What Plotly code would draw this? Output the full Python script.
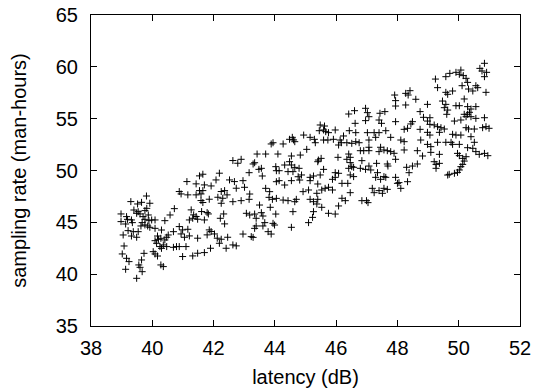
import plotly.graph_objects as go

# latency (dB) values
latency = [
    39.81, 39.30, 39.52, 39.65, 39.92, 39.40, 39.54, 39.76, 39.82, 38.98, 38.98, 39.16, 39.19, 39.13, 39.32, 39.35,
    39.49, 39.60, 39.70, 39.76, 39.87, 39.67, 39.63, 39.89, 39.98, 40.09, 40.41, 40.58, 40.72, 39.21, 39.38, 39.54,
    39.05, 39.32, 39.49, 39.76, 39.85, 39.92, 40.09, 40.30, 40.17, 40.28, 40.69, 40.52, 40.47, 40.41, 40.20, 40.09,
    40.14, 40.36, 40.47, 40.25, 40.30, 40.03, 40.79, 40.69, 39.08, 39.02, 39.16, 39.24, 39.73, 40.09, 40.17, 39.65,
    39.56, 39.60, 39.67, 39.13, 40.28, 40.36, 39.49,
    42.63, 42.79, 42.19, 41.54, 41.65, 42.52, 42.68, 42.74, 41.13, 41.43, 41.70, 41.92, 42.08, 40.88, 40.94, 41.16,
    41.43, 41.54, 41.65, 41.59, 42.25, 42.36, 42.44, 42.30, 42.14, 41.86, 41.59, 41.65, 42.63, 42.25, 41.27, 41.35,
    41.32, 41.43, 41.21, 41.48, 41.61, 41.79, 41.83, 41.70, 42.22, 42.33, 42.36, 40.88, 40.99, 41.16, 40.94, 41.05,
    41.21, 41.86, 41.92, 41.79, 42.03, 42.12, 42.25, 42.46, 41.48, 40.88, 41.10, 42.19, 42.41, 42.63, 42.74, 41.90,
    41.70, 41.48, 41.32, 40.99,
    43.88, 43.94, 44.27, 44.48, 44.57, 44.61, 44.65, 44.94, 42.90, 43.42, 43.70, 44.10, 44.54, 44.83, 43.29, 43.34,
    43.16, 43.48, 43.56, 43.59, 44.03, 44.05, 44.14, 44.32, 44.48, 44.54, 44.65, 44.59, 44.43, 44.79, 44.76, 44.87,
    42.96, 43.01, 44.05, 44.14, 44.54, 44.81, 44.92, 44.32, 43.70, 43.83, 42.90, 43.18, 43.16, 43.81, 43.92, 44.05,
    44.27, 44.43, 44.65, 44.70, 43.50, 43.85, 43.07, 43.18, 43.34, 43.39, 43.56, 43.61, 44.03, 44.59, 43.67, 43.61,
    43.34, 43.39, 43.94, 43.99, 43.78, 43.88, 44.54, 42.96, 43.23, 43.29,
    46.41, 46.60, 45.48, 45.62, 45.45, 45.59, 45.66, 45.75, 45.97, 46.62, 46.64, 46.43, 45.15, 45.29, 45.32, 45.59,
    45.73, 45.91, 46.13, 46.24, 46.17, 46.08, 46.35, 46.51, 46.64, 46.75, 45.04, 46.79, 46.90, 45.42, 45.51, 45.40,
    46.06, 46.35, 46.46, 46.41, 46.46, 46.84, 45.59, 45.97, 46.08, 46.41, 46.51, 46.57, 46.46, 46.57, 46.79, 45.15,
    45.26, 45.48, 45.88, 45.97, 46.19, 46.38, 45.15, 45.40, 45.53, 45.64, 45.75, 45.88, 45.37, 45.10, 45.15, 45.26,
    45.40, 45.37, 46.19, 46.30, 46.46, 46.84, 45.53, 46.08, 45.75, 45.97, 45.26, 45.23, 45.10,
    47.91, 48.27, 48.41, 48.35, 47.94, 47.94, 48.27, 48.60, 46.96, 47.02, 47.07, 46.96, 47.43, 47.59, 47.40, 47.48,
    47.94, 48.74, 48.85, 48.49, 48.44, 48.22, 48.33, 48.74, 47.02, 47.24, 47.40, 47.62, 47.29, 47.07, 47.78, 48.11,
    48.22, 48.76, 47.07, 47.07, 47.45, 47.40, 47.56, 47.67, 47.78, 47.89, 48.22, 48.65, 48.82, 47.32, 47.67, 47.69,
    47.94, 47.07, 46.96, 47.13, 47.35, 47.29, 47.56, 47.62, 47.45, 48.30, 48.49, 48.65, 48.38, 47.94, 48.00, 48.05,
    48.33, 48.11, 47.18, 47.24, 47.40, 47.51, 47.56, 47.67, 46.99, 47.04,
    50.84, 50.69, 50.76, 50.91, 50.84, 49.24, 49.58, 49.71, 49.91, 50.07, 50.02, 50.15, 50.24, 50.29, 50.56, 50.62,
    50.11, 49.31, 49.58, 49.80, 49.64, 50.32, 50.46, 50.89, 50.18, 49.47, 49.58, 49.53, 49.64, 49.61, 49.91, 50.02,
    50.29, 50.40, 50.56, 50.35, 50.18, 48.98, 49.86, 50.07, 50.24, 50.29, 50.40, 50.56, 50.84, 49.06, 48.98, 49.06,
    49.20, 49.31, 49.42, 49.53, 49.37, 48.98, 49.06, 49.80, 49.91, 50.07, 50.24, 50.32, 50.51, 50.78, 50.89, 50.99,
    50.40, 48.98, 49.09, 49.31, 49.58, 49.75, 49.80, 50.02, 50.51, 50.29, 50.46, 50.56, 50.67, 50.84, 50.95, 49.09,
    49.37, 49.96, 50.02, 50.13, 50.24, 50.18, 49.20, 49.26, 49.37, 49.26, 50.13, 50.07, 50.02, 49.96, 49.86, 49.69,
    49.64,
]

# sampling rate (man-hours) values, same order as latency
sampling_rate = [
    47.54, 47.00, 46.77, 46.93, 46.84, 46.19, 46.03, 46.13, 46.35, 45.81, 45.07, 45.55, 45.29, 44.84, 45.23, 44.97,
    45.87, 45.81, 45.55, 45.29, 45.71, 44.97, 44.65, 45.16, 45.23, 45.23, 45.16, 45.71, 46.32, 44.20, 44.10, 44.10,
    43.78, 43.68, 43.56, 44.75, 44.65, 44.52, 44.42, 44.26, 43.68, 43.46, 44.10, 43.78, 43.56, 43.30, 43.36, 43.23,
    42.98, 42.82, 42.66, 42.66, 42.49, 42.17, 42.66, 42.59, 42.72, 41.95, 41.53, 41.21, 42.01, 41.95, 41.75, 41.37,
    40.89, 40.66, 40.24, 40.47, 40.89, 40.73, 39.60,
    50.96, 50.70, 49.74, 49.48, 49.64, 49.09, 48.93, 48.29, 48.93, 48.71, 48.61, 48.51, 49.09, 47.97, 47.74, 47.65,
    47.65, 48.06, 48.06, 47.74, 47.97, 48.06, 47.65, 47.32, 47.42, 47.23, 47.10, 46.91, 46.99, 46.84, 46.20, 45.72,
    45.39, 45.56, 45.23, 45.30, 46.04, 45.94, 45.81, 45.23, 45.39, 45.81, 44.85, 44.59, 44.27, 44.33, 43.88, 43.56,
    43.69, 44.27, 44.11, 43.79, 43.88, 43.47, 43.37, 43.56, 43.47, 42.66, 42.66, 42.98, 42.50, 42.82, 42.73, 42.50,
    42.08, 42.02, 41.76, 41.70,
    52.56, 52.68, 52.56, 53.01, 53.20, 52.95, 52.78, 53.42, 51.08, 51.59, 51.59, 51.59, 51.40, 51.49, 50.63, 50.75,
    49.79, 50.11, 50.21, 49.47, 50.37, 49.98, 49.98, 50.53, 50.85, 50.53, 50.30, 49.89, 49.89, 50.21, 49.40, 49.57,
    49.02, 48.38, 48.92, 49.02, 49.02, 49.08, 47.96, 48.60, 48.28, 47.96, 47.09, 47.73, 47.22, 47.41, 47.22, 47.31,
    47.15, 47.09, 46.99, 47.22, 46.67, 46.45, 45.87, 45.71, 45.80, 45.39, 45.93, 45.61, 45.80, 46.03, 44.97, 44.65,
    44.42, 44.65, 44.90, 44.74, 44.10, 43.87, 44.52, 43.87, 43.62, 43.55,
    55.45, 55.77, 54.39, 54.29, 53.84, 53.91, 53.75, 53.65, 53.91, 54.55, 53.65, 53.84, 53.20, 53.01, 52.68, 52.94,
    52.94, 53.01, 52.94, 53.33, 52.68, 52.46, 52.68, 52.62, 52.78, 52.68, 52.04, 51.91, 51.91, 51.01, 51.17, 50.85,
    51.27, 51.08, 51.27, 51.59, 50.76, 50.95, 50.11, 49.79, 49.73, 50.21, 50.37, 50.31, 49.57, 49.41, 50.21, 49.34,
    49.47, 49.57, 49.15, 49.34, 48.76, 48.76, 49.02, 48.70, 48.12, 48.28, 48.38, 48.12, 47.80, 48.12, 47.22, 46.99,
    47.22, 46.77, 47.32, 47.09, 47.86, 47.09, 46.45, 46.58, 45.87, 45.80, 46.03, 45.48, 44.97,
    57.28, 57.44, 57.70, 57.28, 56.74, 56.22, 56.32, 56.87, 56.00, 55.58, 55.19, 54.81, 55.52, 55.68, 54.87, 54.55,
    54.71, 55.68, 55.13, 54.71, 54.49, 53.97, 54.07, 53.97, 53.65, 53.65, 53.65, 53.84, 53.20, 52.94, 53.20, 52.94,
    52.78, 52.94, 52.24, 51.91, 52.24, 51.82, 51.98, 51.91, 51.82, 51.66, 51.98, 51.91, 51.40, 50.69, 50.63, 50.43,
    51.08, 50.43, 50.11, 50.05, 49.79, 49.34, 49.41, 49.34, 49.15, 50.31, 50.43, 50.63, 49.79, 49.34, 48.76, 48.83,
    48.92, 48.28, 48.28, 47.86, 48.06, 47.80, 48.28, 48.18, 47.09, 46.90,
    60.34, 59.85, 59.60, 59.47, 59.05, 58.82, 59.05, 59.37, 59.47, 59.69, 59.28, 59.15, 58.89, 58.50, 58.18, 57.99,
    58.18, 57.99, 57.54, 57.67, 57.35, 57.86, 57.67, 57.54, 56.90, 56.70, 56.38, 56.06, 55.83, 55.42, 56.25, 56.25,
    56.16, 55.93, 56.16, 55.61, 55.42, 56.38, 54.77, 54.87, 55.19, 55.42, 55.19, 55.03, 55.09, 55.09, 54.77, 54.45,
    54.39, 54.23, 54.13, 54.00, 53.68, 53.68, 53.42, 53.49, 53.42, 53.42, 54.13, 54.00, 54.00, 54.13, 54.23, 54.07,
    53.26, 52.52, 52.30, 52.72, 52.72, 52.72, 52.52, 52.52, 52.72, 52.20, 52.14, 51.82, 51.56, 51.65, 51.43, 51.75,
    51.56, 51.65, 51.43, 51.17, 51.33, 50.91, 50.85, 50.59, 50.69, 50.21, 50.59, 50.37, 50.05, 49.82, 49.73, 49.63,
    49.56,
]

x_ticks = [38, 40, 42, 44, 46, 48, 50, 52]
y_ticks = [35, 40, 45, 50, 55, 60, 65]

font_family = "Liberation Sans, Arial, Helvetica, sans-serif"
font_size = 20

fig = go.Figure(
    go.Scatter(
        x=latency,
        y=sampling_rate,
        mode="markers",
        marker=dict(symbol="cross-thin", size=5, color="black",
                    line=dict(color="black", width=1)),
        showlegend=False,
    )
)

axis_common = dict(
    showline=True, linecolor="black", linewidth=1, mirror="ticks",
    ticks="inside", ticklen=6, tickcolor="black", tickwidth=1,
    showgrid=False, zeroline=False, automargin=False,
    ticklabeloverflow="allow",
    tickfont=dict(family=font_family, size=font_size, color="black"),
)

fig.update_xaxes(
    range=[38, 52], tickvals=x_ticks, ticktext=[str(v) for v in x_ticks],
    title=dict(text="latency (dB)", font=dict(family=font_family, size=font_size, color="black"), standoff=11),
    ticklabelstandoff=4,
    **axis_common,
)
fig.update_yaxes(
    range=[35, 65], tickvals=y_ticks, ticktext=[str(v) for v in y_ticks],
    title=dict(text="sampling rate (man-hours)", font=dict(family=font_family, size=font_size, color="black"), standoff=24),
    ticklabelstandoff=8,
    **axis_common,
)

# the page body adds an 8px offset, so the figure is sized to fit the 542x389 window
fig.update_layout(
    width=534, height=381,
    margin=dict(l=83, r=22, t=7, b=63),
    paper_bgcolor="white", plot_bgcolor="white",
    font=dict(family=font_family, size=font_size, color="black"),
)

fig.write_html("out.html")
